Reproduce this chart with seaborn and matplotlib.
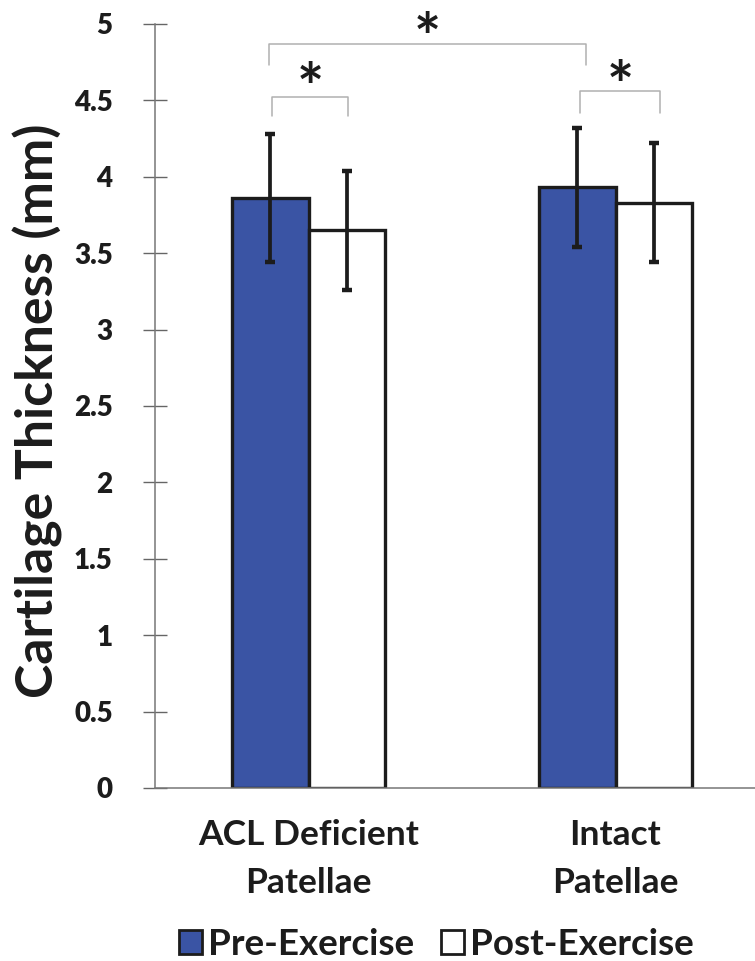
import matplotlib
matplotlib.use("Agg")
import matplotlib.pyplot as plt
import seaborn as sns
import pandas as pd
from matplotlib.patches import Patch

# ---- data ----
groups = ["ACL Deficient\nPatellae", "Intact\nPatellae"]
conditions = ["Pre-Exercise", "Post-Exercise"]
pre_means = [3.86, 3.93]
post_means = [3.65, 3.83]
pre_err = [0.42, 0.39]
post_err = [0.39, 0.39]
y_ticks = [0, 0.5, 1, 1.5, 2, 2.5, 3, 3.5, 4, 4.5, 5]
y_tick_labels = ["0", "0.5", "1", "1.5", "2", "2.5", "3", "3.5", "4", "4.5", "5"]
y_label = "Cartilage Thickness (mm)"

colors = {"Pre-Exercise": "#3A54A4", "Post-Exercise": "#FFFFFF"}
ink = "#1c1c1c"

sns.set_theme(style="white")
plt.rcParams['font.family'] = ['Lato', 'DejaVu Sans']

df = pd.DataFrame({
    "group": groups * 2,
    "condition": [conditions[0]] * 2 + [conditions[1]] * 2,
    "value": pre_means + post_means,
})
errs = pre_err + post_err

fig = plt.figure(figsize=(7.55, 9.61), dpi=100)
ax = fig.add_axes([155 / 755, 173 / 961, 614 / 755, 764 / 961])

sns.barplot(data=df, x="group", y="value", hue="condition", hue_order=conditions,
            order=groups, palette=colors, width=0.5, saturation=1,
            edgecolor=ink, linewidth=2.4, errorbar=None, legend=False, ax=ax)

centers = []
for p, v, e in zip(ax.patches, df["value"], errs):
    cx = p.get_x() + p.get_width() / 2
    centers.append(cx)
    ax.errorbar(cx, v, yerr=e, fmt="none", ecolor=ink, elinewidth=2.7,
                capsize=3.4, capthick=3.2, zorder=5)

ax.set_xlim(-0.5, 1.5)
ax.set_ylim(0, 5)
ax.set_yticks(y_ticks)
ax.set_yticklabels(y_tick_labels)
ax.set_xlabel("")
ax.set_ylabel(y_label, fontsize=37.3, fontweight="bold", color=ink)
ax.yaxis.set_label_coords(-0.15, 0.4935)
ax.tick_params(axis="y", direction="inout", length=17, width=1, color="#666666", pad=22,
               left=True, labelsize=20)
ax.tick_params(axis="x", length=0, pad=22, labelsize=25.5)
for lab in ax.get_yticklabels():
    lab.set_fontweight("heavy")
    lab.set_color(ink)
for lab in ax.get_xticklabels():
    lab.set_fontweight("bold")
    lab.set_color(ink)
    lab.set_linespacing(1.65)
for s in ["top", "right"]:
    ax.spines[s].set_visible(False)
for s in ["left", "bottom"]:
    ax.spines[s].set_color("#777777")
    ax.spines[s].set_linewidth(1.1)

# significance brackets
acl_pre, int_pre, acl_post, int_post = centers


def bracket(x1, x2, ytop, ybot, star_y):
    ax.plot([x1, x1, x2, x2], [ybot, ytop, ytop, ybot], color="#b0b0b0", lw=1.1,
            clip_on=False, zorder=4, solid_joinstyle="round")
    ax.text((x1 + x2) / 2, star_y, "*", ha="center", va="center", fontsize=46,
            fontweight="bold", color=ink, clip_on=False)


bracket(acl_pre - 0.005, int_pre + 0.03, 4.87, 4.73, 4.885)
bracket(acl_pre + 0.005, acl_post + 0.005, 4.52, 4.40, 4.555)
bracket(int_pre + 0.01, int_post + 0.02, 4.56, 4.42, 4.57)

# legend
handles = [Patch(facecolor=colors[c], edgecolor=ink, linewidth=2.0, label=c)
           for c in conditions]
fig.legend(handles=handles, loc="lower center", bbox_to_anchor=(0.578, -0.034), ncol=2,
           frameon=False, prop={"size": 26.5, "weight": "bold"}, handlelength=0.62,
           handleheight=0.62, handletextpad=0.15, columnspacing=0.75, labelcolor=ink)

fig.savefig("out.png", dpi=100)
